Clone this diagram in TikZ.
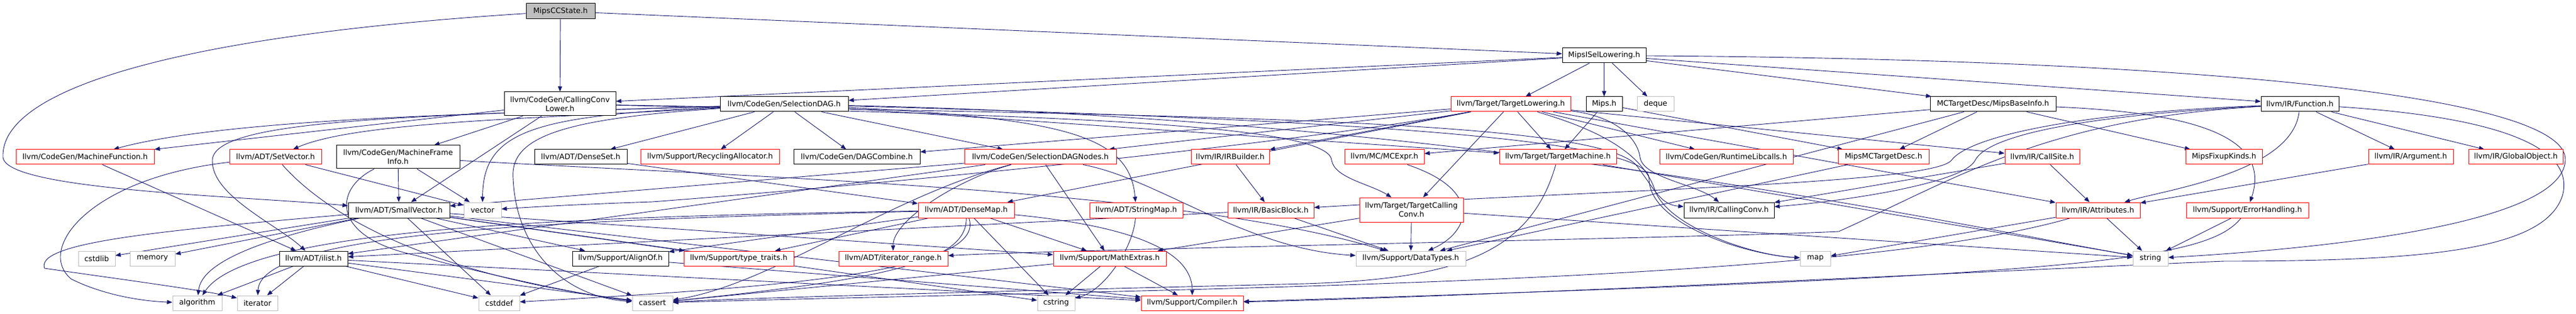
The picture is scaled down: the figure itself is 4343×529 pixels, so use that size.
\documentclass[tikz,border=0pt]{standalone}
\usepackage{fontspec}
\setmainfont{DejaVu Sans}
\usetikzlibrary{arrows.meta,backgrounds}
\definecolor{edgec}{HTML}{191970}
\definecolor{grayb}{HTML}{BFBFBF}
\definecolor{redb}{HTML}{FF0000}
\tikzset{
 box/.style={rectangle, inner sep=0pt, line width=1pt, fill=white, font=\fontsize{12.6}{15}\selectfont, align=center},
 nb/.style={box, draw=black},
 rb/.style={box, draw=redb},
 gb/.style={box, draw=grayb},
 rt/.style={box, draw=black, fill=grayb},
 e/.style={draw=edgec, line width=0.9pt, -{Triangle[length=9pt,width=7pt]}},
}
\newcommand\bx[7]{\node[#6, minimum width={#3-#2}, minimum height={#5-#4}] (#1) at ({(#2+#3)/2},{(#4+#5)/2}) {#7};}
\begin{document}
\begin{tikzpicture}[x=1pt,y=-1pt]
\useasboundingbox (0,0) rectangle (4343,529);
% row 0
\bx{ccs}{887}{1003}{6}{32}{rt}{MipsCCState.h}
\bx{isel}{2634}{2775}{81}{106}{nb}{MipsISelLowering.h}
% row 1
\bx{ccl}{850}{1038}{155}{195}{nb}{llvm/CodeGen/CallingConv\\Lower.h}
\bx{sdag}{1214}{1430}{163}{188}{nb}{llvm/CodeGen/SelectionDAG.h}
\bx{tlow}{2446}{2648}{163}{188}{rb}{llvm/Target/TargetLowering.h}
\bx{mips}{2674}{2735}{163}{188}{nb}{Mips.h}
\bx{deque}{2760}{2822}{163}{188}{gb}{deque}
\bx{mbi}{3254}{3466}{163}{188}{nb}{MCTargetDesc/MipsBaseInfo.h}
\bx{func}{3812}{3943}{163}{188}{nb}{llvm/IR/Function.h}
% row 2
\bx{mf}{27}{260}{252}{277}{rb}{llvm/CodeGen/MachineFunction.h}
\bx{setv}{387}{542}{252}{277}{rb}{llvm/ADT/SetVector.h}
\bx{mfi}{567}{775}{245}{284}{nb}{llvm/CodeGen/MachineFrame\\Info.h}
\bx{dset}{901}{1057}{252}{277}{nb}{llvm/ADT/DenseSet.h}
\bx{recy}{1080}{1314}{252}{277}{rb}{llvm/Support/RecyclingAllocator.h}
\bx{dagc}{1338}{1551}{252}{277}{nb}{llvm/CodeGen/DAGCombine.h}
\bx{sdn}{1626}{1882}{252}{277}{rb}{llvm/CodeGen/SelectionDAGNodes.h}
\bx{irb}{2008}{2140}{252}{277}{rb}{llvm/IR/IRBuilder.h}
\bx{mcexpr}{2267}{2401}{252}{277}{rb}{llvm/MC/MCExpr.h}
\bx{tm}{2528}{2725}{252}{277}{rb}{llvm/Target/TargetMachine.h}
\bx{rtl}{2798}{3023}{252}{277}{rb}{llvm/CodeGen/RuntimeLibcalls.h}
\bx{mmcd}{3099}{3252}{252}{277}{rb}{MipsMCTargetDesc.h}
\bx{csite}{3380}{3506}{252}{277}{rb}{llvm/IR/CallSite.h}
\bx{fixup}{3685}{3814}{252}{277}{rb}{MipsFixupKinds.h}
\bx{arg}{3993}{4136}{252}{277}{rb}{llvm/IR/Argument.h}
\bx{gobj}{4162}{4321}{252}{277}{rb}{llvm/IR/GlobalObject.h}
% row 3
\bx{svec}{587}{758}{341}{367}{nb}{llvm/ADT/SmallVector.h}
\bx{vector}{782}{845}{341}{367}{gb}{vector}
\bx{dmap}{1548}{1710}{341}{367}{rb}{llvm/ADT/DenseMap.h}
\bx{smap}{1837}{1994}{341}{367}{rb}{llvm/ADT/StringMap.h}
\bx{bb}{2070}{2215}{341}{367}{rb}{llvm/IR/BasicBlock.h}
\bx{tcc}{2292}{2467}{333}{374}{rb}{llvm/Target/TargetCalling\\Conv.h}
\bx{cconv}{2839}{2991}{341}{367}{nb}{llvm/IR/CallingConv.h}
\bx{attr}{3466}{3608}{341}{367}{rb}{llvm/IR/Attributes.h}
\bx{errh}{3686}{3892}{341}{367}{rb}{llvm/Support/ErrorHandling.h}
% row 4
\bx{cstdlib}{132}{194}{423}{448}{gb}{cstdlib}
\bx{memory}{219}{295}{423}{448}{gb}{memory}
\bx{ilist}{471}{586}{423}{448}{nb}{llvm/ADT/ilist.h}
\bx{alignof}{965}{1127}{423}{448}{nb}{llvm/Support/AlignOf.h}
\bx{ttraits}{1153}{1338}{423}{448}{rb}{llvm/Support/type\_traits.h}
\bx{irange}{1414}{1598}{423}{448}{rb}{llvm/ADT/iterator\_range.h}
\bx{mathx}{1776}{1966}{423}{448}{rb}{llvm/Support/MathExtras.h}
\bx{dtypes}{2286}{2471}{423}{448}{gb}{llvm/Support/DataTypes.h}
\bx{map}{3035}{3086}{423}{448}{gb}{map}
\bx{string}{3596}{3655}{423}{448}{gb}{string}
% row 5
\bx{algorithm}{291}{374}{498}{523}{gb}{algorithm}
\bx{iterator}{400}{468}{498}{523}{gb}{iterator}
\bx{cstddef}{807}{876}{498}{523}{gb}{cstddef}
\bx{cassert}{1066}{1134}{498}{523}{gb}{cassert}
\bx{cstring}{1749}{1812}{498}{523}{gb}{cstring}
\bx{compiler}{1924}{2096}{498}{523}{rb}{llvm/Support/Compiler.h}

\begin{scope}[on background layer]
\fill[white] (0,0) rectangle (4343,529);
% MipsCCState
\draw[e] (ccs) -- (isel);
\draw[e] (ccs) -- (ccl);
\draw[e] (ccs) .. controls (300,60) and (0,150) .. (5,265) .. controls (10,320) and (400,330) .. (svec);
% MipsISelLowering
\draw[e] (isel) -- (ccl);
\draw[e] (isel) -- (sdag);
\draw[e] (isel) -- (tlow);
\draw[e] (isel) -- (mips);
\draw[e] (isel) -- (deque);
\draw[e] (isel) -- (mbi);
\draw[e] (isel) -- (func);
\draw[e] (isel) .. controls (3700,100) and (4330,160) .. (4325,270) .. controls (4320,380) and (3900,420) .. (string);
% CallingConvLower
\draw[e] (ccl) -- (mf);
\draw[e] (ccl) -- (mfi);
\draw[e] (ccl) -- (svec);
\draw[e] (ccl) .. controls (1800,195) and (2240,210) .. (2245,270) .. controls (2250,300) and (2310,310) .. (tcc);
\draw[e] (ccl) .. controls (2000,195) and (2700,200) .. (2760,280) .. controls (2790,320) and (2800,345) .. (cconv);
% SelectionDAG
\draw[e] (sdag) -- (dset);
\draw[e] (sdag) .. controls (900,200) and (600,205) .. (setv);
\draw[e] (sdag) .. controls (900,190) and (400,195) .. (mf);
\draw[e] (sdag) .. controls (700,195) and (360,200) .. (358,270) .. controls (356,330) and (470,380) .. (ilist);
\draw[e] (sdag) .. controls (900,195) and (814,220) .. (vector);
\draw[e] (sdag) .. controls (950,200) and (860,230) .. (865,300) .. controls (870,420) and (950,500) .. (cassert);
\draw[e] (sdag) -- (recy);
\draw[e] (sdag) -- (dagc);
\draw[e] (sdag) -- (sdn);
\draw[e] (sdag) .. controls (1800,200) and (1905,230) .. (smap);
\draw[e] (sdag) -- (tm);
\draw[e] (sdag) .. controls (2200,200) and (2780,230) .. (2780,300) .. controls (2780,380) and (2950,430) .. (map);
\draw[e] (sdag) .. controls (2500,200) and (3300,380) .. (string);
% TargetLowering
\draw[e] (tlow) -- (dmap);
\draw[e] (tlow) -- (dagc);
\draw[e] (tlow) -- (sdn);
\draw[e] (tlow) -- (irb);
\draw[e] (tlow) -- (rtl);
\draw[e] (tlow) -- (tm);
\draw[e] (tlow) -- (tcc);
\draw[e] (tlow) .. controls (2720,195) and (2760,230) .. (2765,265) .. controls (2770,300) and (2860,310) .. (cconv);
\draw[e] (tlow) -- (csite);
\draw[e] (tlow) -- (attr);
\draw[e] (tlow) .. controls (2700,220) and (2770,260) .. (2790,320) .. controls (2810,380) and (2950,430) .. (map);
\draw[e] (tlow) .. controls (2200,240) and (1500,310) .. (1100,340) .. controls (950,345) and (880,350) .. (vector);
% Mips.h
\draw[e] (mips) -- (tm);
\draw[e] (mips) -- (mmcd);
% MipsBaseInfo
\draw[e] (mbi) -- (mcexpr);
\draw[e] (mbi) -- (mmcd);
\draw[e] (mbi) -- (fixup);
\draw[e] (mbi) .. controls (3700,190) and (3830,230) .. (errh);
\draw[e] (mbi) -- (dtypes);
% Function
\draw[e] (func) -- (arg);
\draw[e] (func) -- (gobj);
\draw[e] (func) .. controls (3865,290) and (3650,320) .. (attr);
\draw[e] (func) .. controls (3500,190) and (3320,230) .. (3290,270) .. controls (3260,310) and (2700,320) .. (bb);
\draw[e] (func) .. controls (3500,195) and (3350,230) .. (3330,270) .. controls (3310,310) and (3100,340) .. (cconv);
\draw[e] (func) .. controls (3450,200) and (3300,300) .. (3100,390) .. controls (2900,400) and (1800,420) .. (irange);
\draw[e] (func) .. controls (4250,200) and (4340,260) .. (4320,330) .. controls (4290,420) and (4100,440) .. (3750,440) .. controls (3500,450) and (2500,500) .. (compiler);
% ErrorHandling
\draw[e] (errh) -- (string);
\draw[e] (errh) .. controls (3720,440) and (3500,465) .. (compiler);
% Attributes
\draw[e] (attr) -- (string);
\draw[e] (attr) -- (map);
\draw[e] (attr) .. controls (3100,480) and (2000,485) .. (cassert);
% TargetMachine
\draw[e] (tm) .. controls (2580,430) and (2450,470) .. (2200,478) .. controls (1800,488) and (1300,500) .. (cassert);
\draw[e] (tm) -- (string);
% SelectionDAGNodes
\draw[e] (sdn) -- (svec);
\draw[e] (sdn) -- (ilist);
\draw[e] (sdn) .. controls (1620,300) and (1505,370) .. (irange);
\draw[e] (sdn) .. controls (1500,330) and (1300,480) .. (cassert);
\draw[e] (sdn) -- (mathx);
\draw[e] (sdn) .. controls (1950,300) and (2100,420) .. (dtypes);
% DenseSet
\draw[e] (dset) -- (dmap);
% DenseMap
\draw[e] (dmap) -- (alignof);
\draw[e] (dmap) -- (ttraits);
\draw[e] (dmap) -- (mathx);
\draw[e] (dmap) -- (cstring);
\draw[e] (dmap) .. controls (1900,380) and (2010,420) .. (compiler);
\draw[e] (dmap) .. controls (1630,440) and (1500,470) .. (cassert);
\draw[e] (dmap) .. controls (1665,460) and (1300,485) .. (cstddef);
\draw[e] (dmap) .. controls (1000,365) and (420,380) .. (algorithm);
\draw[e] (dmap) .. controls (1000,370) and (440,385) .. (iterator);
% SmallVector
\draw[e] (svec) -- (cstdlib);
\draw[e] (svec) -- (memory);
\draw[e] (svec) .. controls (450,400) and (340,440) .. (algorithm);
\draw[e] (svec) .. controls (250,390) and (60,410) .. (75,452) .. controls (200,470) and (350,490) .. (iterator);
\draw[e] (svec) -- (cstddef);
\draw[e] (svec) -- (cassert);
\draw[e] (svec) -- (alignof);
\draw[e] (svec) -- (ttraits);
\draw[e] (svec) -- (mathx);
\draw[e] (svec) -- (compiler);
\draw[e] (svec) -- (cstring);
% ilist
\draw[e] (ilist) -- (algorithm);
\draw[e] (ilist) -- (iterator);
\draw[e] (ilist) -- (cstddef);
\draw[e] (ilist) -- (cassert);
\draw[e] (ilist) -- (compiler);
% AlignOf
\draw[e] (alignof) -- (cstddef);
\draw[e] (alignof) -- (compiler);
% MathExtras
\draw[e] (mathx) -- (cstring);
\draw[e] (mathx) -- (compiler);
\draw[e] (mathx) -- (cassert);
% StringMap
\draw[e] (smap) .. controls (1910,420) and (1860,490) .. (cstring);
% IRBuilder, BasicBlock
\draw[e] (irb) -- (bb);
\draw[e] (bb) -- (ilist);
\draw[e] (bb) -- (dtypes);
% MCExpr, TargetCallingConv, MipsMCTargetDesc
\draw[e] (mcexpr) .. controls (2500,320) and (2480,390) .. (dtypes);
\draw[e] (tcc) -- (dtypes);
\draw[e] (tcc) -- (string);
\draw[e] (tcc) -- (mathx);
\draw[e] (mmcd) -- (dtypes);
% CallSite, Argument
\draw[e] (csite) -- (attr);
\draw[e] (csite) -- (cconv);
\draw[e] (arg) -- (attr);
% MachineFrameInfo
\draw[e] (mfi) -- (svec);
\draw[e] (mfi) -- (vector);
\draw[e] (mfi) .. controls (560,320) and (560,400) .. (700,430) .. controls (850,470) and (1000,500) .. (cassert);
\draw[e] (mfi) .. controls (1300,300) and (2000,320) .. (dtypes);
% SetVector
\draw[e] (setv) .. controls (150,300) and (60,420) .. (120,470) .. controls (180,500) and (250,508) .. (algorithm);
\draw[e] (setv) .. controls (540,350) and (700,460) .. (cassert);
\draw[e] (setv) -- (vector);
% MachineFunction
\draw[e] (mf) -- (ilist);
\end{scope}
\end{tikzpicture}
\end{document}
